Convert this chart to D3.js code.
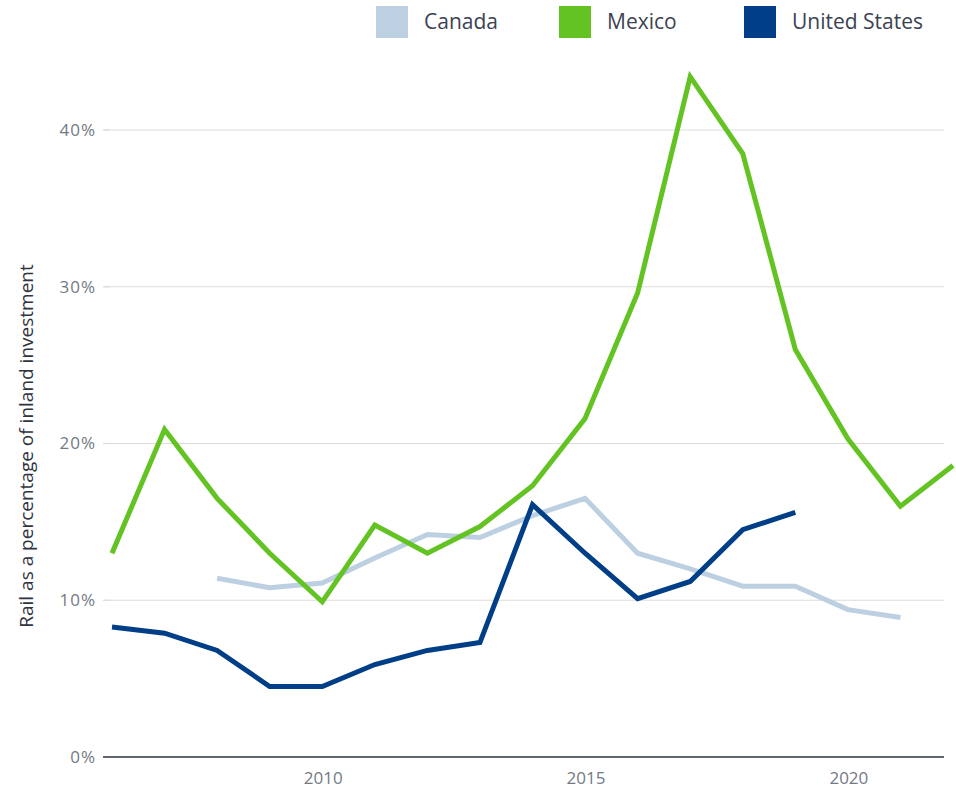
<!DOCTYPE html>
<html>
<head>
<meta charset="utf-8">
<script src="https://cdn.jsdelivr.net/npm/d3@7"></script>
<style>
  html, body { margin: 0; padding: 0; background: #fff; }
  svg { display: block; font-family: "Open Sans", "Noto Sans", sans-serif; }
  .grid line { stroke: #dcdcdc; stroke-width: 1.2; }
  .tick-label { fill: #737a84; font-size: 17px; }
  .legend-label { fill: #3b4252; font-size: 21px; }
  .series { fill: none; stroke-width: 5; stroke-linejoin: miter; stroke-linecap: butt; }
</style>
</head>
<body>
<svg id="chart" width="956" height="789"></svg>
<script>
// values (percent)
const years = [2006, 2007, 2008, 2009, 2010, 2011, 2012, 2013, 2014, 2015, 2016, 2017, 2018, 2019, 2020, 2021, 2022];
const canada = [null, null, 11.4, 10.8, 11.1, 12.7, 14.2, 14.0, 15.4, 16.5, 13.0, 12.0, 10.9, 10.9, 9.4, 8.9, null];
const mexico = [13.0, 20.9, 16.5, 13.0, 9.9, 14.8, 13.0, 14.7, 17.3, 21.6, 29.6, 43.4, 38.5, 26.0, 20.3, 16.0, 18.6];
const unitedStates = [8.3, 7.9, 6.8, 4.5, 4.5, 5.9, 6.8, 7.3, 16.1, 13.0, 10.1, 11.2, 14.5, 15.6, null, null, null];

const seriesNames = ['Canada', 'Mexico', 'United States'];
const seriesColors = ['#bcd0e2', '#63c322', '#003f87'];
const yTicks = [0, 10, 20, 30, 40];
const xTicks = [2010, 2015, 2020];

const svg = d3.select('#chart');

const x = d3.scaleLinear().domain([2006, 2022]).range([112, 953]);
const y = d3.scaleLinear().domain([0, 40]).range([757, 130]);
const gridLeft = 104, gridRight = 944;

// horizontal grid lines
const grid = svg.append('g').attr('class', 'grid');
grid.selectAll('line')
    .data(yTicks.filter(d => d > 0))
    .join('line')
    .attr('x1', gridLeft).attr('x2', gridRight)
    .attr('y1', d => y(d)).attr('y2', d => y(d));

// small tick marks next to the y labels
svg.append('g').selectAll('line')
    .data(yTicks)
    .join('line')
    .attr('x1', gridLeft - 1).attr('x2', gridLeft + 6)
    .attr('y1', d => y(d)).attr('y2', d => y(d))
    .attr('stroke', d => d === 0 ? '#5f6670' : '#dcdcdc')
    .attr('stroke-width', d => d === 0 ? 2 : 1.2);

// y tick labels
svg.append('g').selectAll('text')
    .data(yTicks)
    .join('text')
    .attr('class', 'tick-label')
    .attr('x', 96)
    .attr('y', d => y(d))
    .attr('dy', '0.35em')
    .attr('text-anchor', 'end')
    .attr('letter-spacing', '1')
    .text(d => d + '%');

// baseline
svg.append('line')
    .attr('x1', gridLeft).attr('x2', gridRight)
    .attr('y1', y(0)).attr('y2', y(0))
    .attr('stroke', '#5f6670').attr('stroke-width', 2);

// x tick labels
svg.append('g').selectAll('text')
    .data(xTicks)
    .join('text')
    .attr('class', 'tick-label')
    .attr('font-size', 18)
    .attr('x', d => x(d) + 1)
    .attr('y', 784)
    .attr('text-anchor', 'middle')
    .text(d => d);

// y axis title
svg.append('text')
    .attr('transform', 'translate(33,446) rotate(-90)')
    .attr('text-anchor', 'middle')
    .attr('fill', '#2f3440')
    .attr('font-size', 19)
    .text('Rail as a percentage of inland investment');

// lines
const line = d3.line()
    .defined(d => d.v != null)
    .x(d => x(d.year))
    .y(d => y(d.v));

const seriesValues = [canada, mexico, unitedStates];
svg.append('g').selectAll('path')
    .data(seriesValues.map((vals, i) => ({
        name: seriesNames[i],
        color: seriesColors[i],
        points: years.map((yr, j) => ({ year: yr, v: vals[j] }))
    })))
    .join('path')
    .attr('class', 'series')
    .attr('stroke', d => d.color)
    .attr('d', d => line(d.points));

// legend
const legendX = [376, 559, 744];
const legend = svg.append('g').selectAll('g')
    .data(seriesNames)
    .join('g')
    .attr('transform', (d, i) => `translate(${legendX[i]},6)`);
legend.append('rect')
    .attr('width', 32).attr('height', 32)
    .attr('fill', (d, i) => seriesColors[i]);
legend.append('text')
    .attr('class', 'legend-label')
    .attr('x', 48).attr('y', 16)
    .attr('dy', '0.35em')
    .text(d => d);
</script>
</body>
</html>
